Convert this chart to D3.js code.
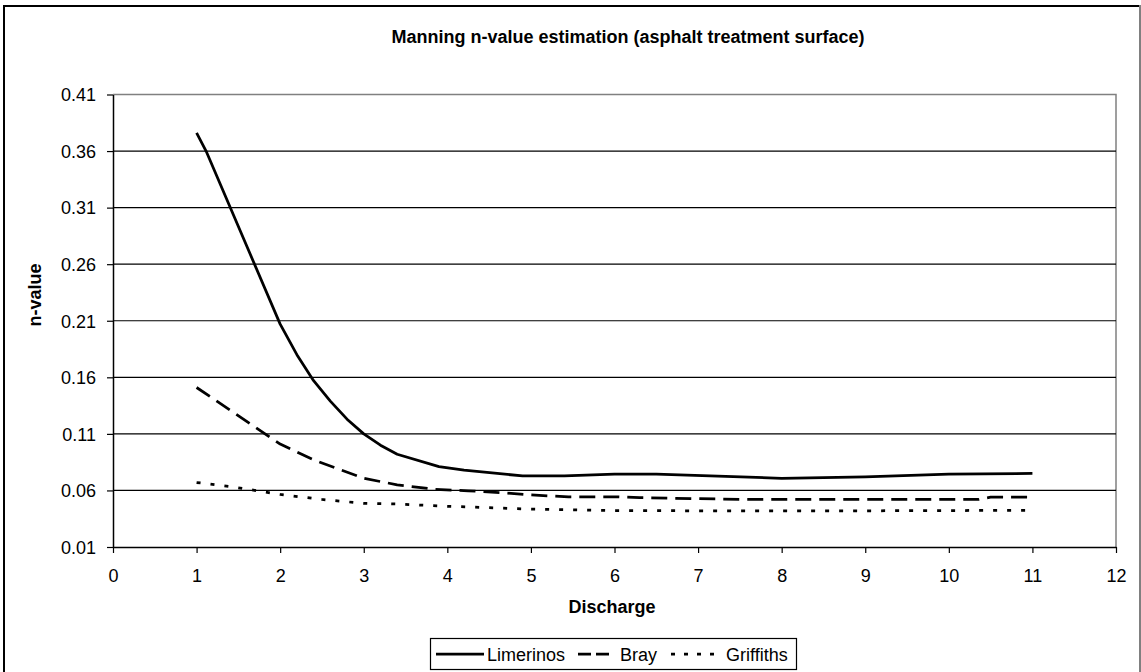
<!DOCTYPE html>
<html>
<head>
<meta charset="utf-8">
<script src="https://cdn.jsdelivr.net/npm/d3@7"></script>
<style>
  html, body { margin: 0; padding: 0; background: #fff; }
  svg { display: block; font-family: "Liberation Sans", Arial, sans-serif; }
</style>
</head>
<body>
<svg id="chart" width="1141" height="672"></svg>
<script>
// Discharge / Manning n-value pairs for each method
const limerinosQ = [1.0, 1.12, 2.0, 2.2, 2.4, 2.6, 2.8, 3.0, 3.2, 3.4, 3.9, 4.2, 4.9, 5.4, 6.0, 6.5, 8.0, 9.0, 10.0, 11.0];
const limerinosN = [0.376, 0.359, 0.207, 0.180, 0.157, 0.139, 0.123, 0.110, 0.100, 0.092, 0.081, 0.078, 0.0728, 0.0728, 0.0745, 0.0745, 0.0707, 0.072, 0.0745, 0.075];

const brayQ = [1.0, 2.0, 2.4, 3.0, 3.4, 3.85, 4.25, 4.65, 5.0, 5.45, 6.0, 6.3, 7.0, 7.6, 10.35, 10.5, 11.0];
const brayN = [0.151, 0.101, 0.087, 0.0707, 0.065, 0.061, 0.0597, 0.058, 0.056, 0.0544, 0.0544, 0.0536, 0.0527, 0.052, 0.052, 0.054, 0.054];

const griffithsQ = [1.0, 1.4, 2.0, 2.5, 3.0, 3.4, 4.0, 5.0, 6.0, 7.0, 8.0, 9.0, 10.0, 11.0];
const griffithsN = [0.067, 0.0635, 0.0565, 0.052, 0.0486, 0.048, 0.046, 0.0435, 0.0422, 0.042, 0.042, 0.042, 0.0422, 0.0425];

const seriesNames = ["Limerinos", "Bray", "Griffiths"];
const xTicks = [0, 1, 2, 3, 4, 5, 6, 7, 8, 9, 10, 11, 12];
const yTicks = [0.01, 0.06, 0.11, 0.16, 0.21, 0.26, 0.31, 0.36, 0.41];

const titleText = "Manning n-value estimation (asphalt treatment surface)";
const xTitle = "Discharge";
const yTitle = "n-value";

const svg = d3.select("#chart");
const W = 1141, H = 672;
const plot = { left: 113, right: 1116, top: 94.5, bottom: 547 };

const x = d3.scaleLinear().domain([0, 12]).range([plot.left, plot.right]);
const y = d3.scaleLinear().domain([0.01, 0.41]).range([plot.bottom, plot.top]);

// chart frame
svg.append("line").attr("x1", 3).attr("x2", 1141).attr("y1", 6).attr("y2", 6)
  .attr("stroke", "#000").attr("stroke-width", 2);
svg.append("line").attr("x1", 4).attr("x2", 4).attr("y1", 5).attr("y2", H)
  .attr("stroke", "#000").attr("stroke-width", 2);
svg.append("line").attr("x1", 1140).attr("x2", 1140).attr("y1", 5).attr("y2", H)
  .attr("stroke", "#808080").attr("stroke-width", 2);

// title
svg.append("text")
  .attr("x", 628).attr("y", 43)
  .attr("text-anchor", "middle")
  .attr("font-size", 18).attr("font-weight", "bold")
  .text(titleText);

// plot-area outline (top and right edges)
svg.append("path")
  .attr("d", `M${plot.left},${plot.top}H${plot.right}V${plot.bottom}`)
  .attr("fill", "none").attr("stroke", "#808080").attr("stroke-width", 1.5);

// horizontal gridlines
svg.append("g").selectAll("line")
  .data(yTicks.filter(v => v > 0.011 && v < 0.409))
  .join("line")
  .attr("x1", plot.left).attr("x2", plot.right)
  .attr("y1", d => y(d)).attr("y2", d => y(d))
  .attr("stroke", "#000").attr("stroke-width", 1.2);

// axes
const xAxis = d3.axisBottom(x).tickValues(xTicks).tickFormat(d3.format("d")).tickSize(6).tickSizeOuter(0);
const gx = svg.append("g").attr("transform", `translate(0,${plot.bottom})`).call(xAxis);
gx.select(".domain").attr("stroke", "#000").attr("stroke-width", 1.5);
gx.selectAll(".tick line").attr("stroke", "#000").attr("stroke-width", 1.2);
gx.selectAll(".tick text").attr("font-size", 18).attr("font-family", "Liberation Sans, Arial, sans-serif")
  .attr("fill", "#000").attr("dy", 0).attr("y", 35);

const yAxis = d3.axisLeft(y).tickValues(yTicks).tickFormat(d3.format(".2f")).tickSize(6).tickSizeOuter(0);
const gy = svg.append("g").attr("transform", `translate(${plot.left},0)`).call(yAxis);
gy.select(".domain").attr("stroke", "#000").attr("stroke-width", 1.5);
gy.selectAll(".tick line").attr("stroke", "#000").attr("stroke-width", 1.2);
gy.selectAll(".tick text").attr("font-size", 18).attr("font-family", "Liberation Sans, Arial, sans-serif")
  .attr("fill", "#000").attr("x", -17).attr("dy", "0.35em");

// axis titles
svg.append("text")
  .attr("x", 612).attr("y", 613)
  .attr("text-anchor", "middle")
  .attr("font-size", 18).attr("font-weight", "bold")
  .text(xTitle);
svg.append("text")
  .attr("transform", "translate(41,295) rotate(-90)")
  .attr("text-anchor", "middle")
  .attr("font-size", 18).attr("font-weight", "bold")
  .text(yTitle);

// series
const series = [
  { name: seriesNames[0], q: limerinosQ, n: limerinosN, dash: null, legendDash: null },
  { name: seriesNames[1], q: brayQ, n: brayN, dash: "16,8", legendDash: "13,5" },
  { name: seriesNames[2], q: griffithsQ, n: griffithsN, dash: "4,10", legendDash: "4,9" }
];

const line = d3.line().x(d => x(d[0])).y(d => y(d[1]));

svg.append("g").selectAll("path")
  .data(series)
  .join("path")
  .attr("d", s => line(s.q.map((q, i) => [q, s.n[i]])))
  .attr("fill", "none")
  .attr("stroke", "#000")
  .attr("stroke-width", 2.75)
  .attr("stroke-linejoin", "round")
  .attr("stroke-dasharray", s => s.dash);

// legend
const legend = svg.append("g");
legend.append("rect")
  .attr("x", 430.5).attr("y", 638.5).attr("width", 366).attr("height", 31)
  .attr("fill", "#fff").attr("stroke", "#000").attr("stroke-width", 1.2);

const legendItems = [
  { s: series[0], x0: 436, x1: 484, tx: 487 },
  { s: series[1], x0: 578, x1: 611, tx: 620 },
  { s: series[2], x0: 671, x1: 722, tx: 726 }
];
legendItems.forEach(it => {
  legend.append("line")
    .attr("x1", it.x0).attr("x2", it.x1).attr("y1", 654).attr("y2", 654)
    .attr("stroke", "#000").attr("stroke-width", 2.75)
    .attr("stroke-dasharray", it.s.legendDash);
  legend.append("text")
    .attr("x", it.tx).attr("y", 660.5)
    .attr("font-size", 18)
    .text(it.s.name);
});
</script>
</body>
</html>
